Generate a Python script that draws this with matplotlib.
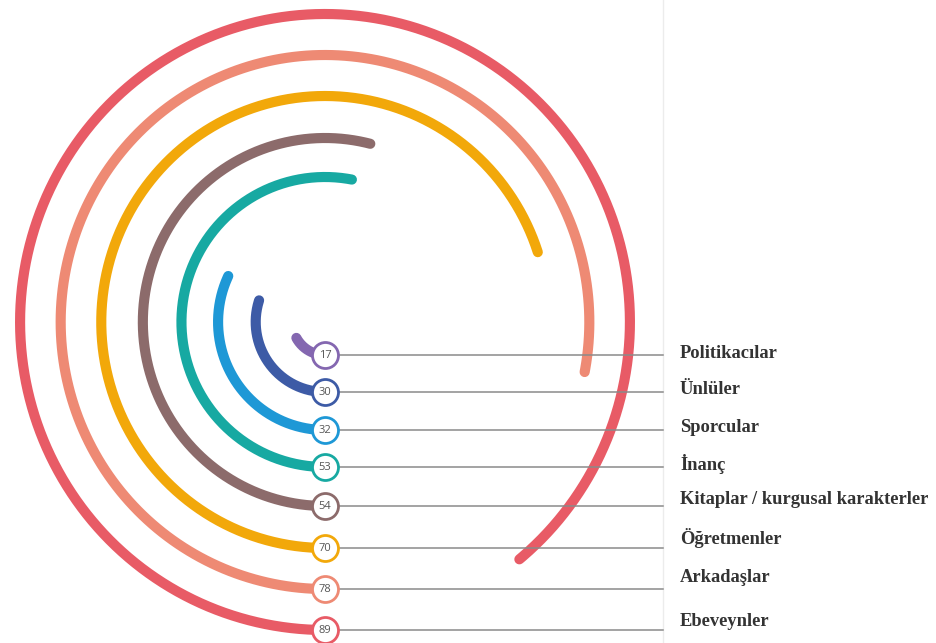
import numpy as np
import matplotlib.pyplot as plt

# data (percent)
categories = ["Politikacılar", "Ünlüler", "Sporcular", "İnanç",
              "Kitaplar / kurgusal karakterler", "Öğretmenler",
              "Arkadaşlar", "Ebeveynler"]
values = [17, 30, 32, 53, 54, 70, 78, 89]
colors = ["#8467b0", "#3d5ba6", "#1e98d6", "#17a9a2",
          "#8c6b6b", "#f2a80a", "#ee8a74", "#e85b66"]

# layout (pixel coords, y down)
CX, CY = 325, 322
radii = [33, 70, 108, 145, 184, 226, 267, 308]
label_dy = [-2, -2, -2, -3, -6, -10, -11, -8]
LINE_END = 663
LABEL_X = 680

fig = plt.figure(figsize=(9.36, 6.43), dpi=100)
ax = fig.add_axes([0, 0, 1, 1])
ax.set_xlim(0, 936)
ax.set_ylim(643, 0)
ax.axis("off")

for cat, v, c, r, dy in zip(categories, values, colors, radii, label_dy):
    theta = np.linspace(0, v / 100 * 2 * np.pi, 400)
    x = CX - r * 0.99 * np.sin(theta)
    y = CY + r * np.cos(theta)
    ax.plot(x, y, color=c, lw=7.3, solid_capstyle="round", zorder=2)

    yb = CY + r
    ax.plot([CX, LINE_END], [yb, yb], color="#8a8a8a", lw=1.1, zorder=3)
    ax.scatter([CX], [yb], s=350, facecolor="white", edgecolor=c,
               linewidths=2.0, zorder=4)
    ax.text(CX, yb + 0.5, str(v), ha="center", va="center", fontsize=8,
            color="#555555", family="Open Sans", zorder=5)
    ax.text(LABEL_X, yb + dy, cat, ha="left", va="center", fontsize=13.3,
            fontweight="bold", family="Liberation Serif", color="#333333")

ax.plot([LINE_END, LINE_END], [0, 643], color="#ececec", lw=1, zorder=1)

fig.savefig("out.png", dpi=100)
